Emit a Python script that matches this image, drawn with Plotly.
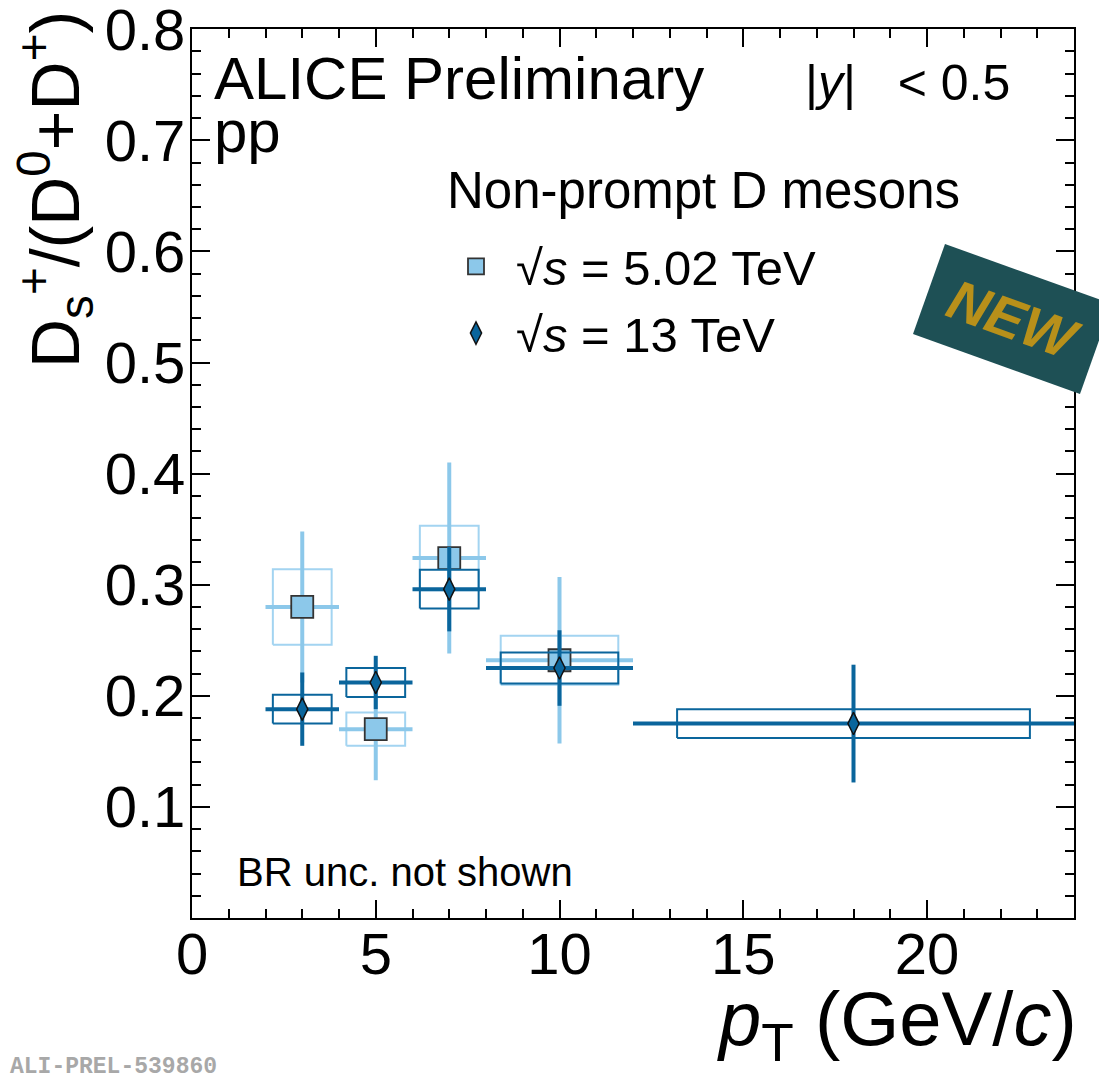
import plotly.graph_objects as go

# ---------------- data ----------------
pt_502 = [3, 5, 7, 10]
pt_err_502 = [1, 1, 1, 2]
ratio_502 = [0.280, 0.170, 0.324, 0.232]
stat_502 = [0.068, 0.046, 0.086, 0.075]
syst_502 = [0.034, 0.015, 0.029, 0.022]

pt_13 = [3, 5, 7, 10, 18]
pt_err_13 = [1, 1, 1, 2, 6]
ratio_13 = [0.188, 0.212, 0.296, 0.225, 0.175]
stat_13 = [0.033, 0.024, 0.038, 0.034, 0.053]
syst_13 = [0.013, 0.013, 0.0175, 0.014, 0.013]

x_ticks = [0, 5, 10, 15, 20]
y_ticks = [0.1, 0.2, 0.3, 0.4, 0.5, 0.6, 0.7, 0.8]

# ---------------- style ----------------
OFF = 8                      # browser default body margin
W, H = 1107 - OFF, 1078 - OFF
L, R, T, B = 192, 1074, 29, 918   # plot area in screen pixels
FONT = "Liberation Sans, Arial, Helvetica, sans-serif"
LIGHT = "#8cc8ea"
LIGHT_BOX = "#a3d4f1"
DARK = "#0a659c"
BOX_FRAC = 0.8  # box half-width relative to bin half-width


def px(xp):
    return (xp - L) / (R - L)


def py(yp):
    return (B - yp) / (B - T)


def box_path(xs, xe, ys, es):
    bx, by = [], []
    for x, dx, y, e in zip(xs, xe, ys, es):
        w = dx * BOX_FRAC
        bx += [x - w, x + w, x + w, x - w, x - w, None]
        by += [y - e, y - e, y + e, y + e, y - e, None]
    return bx, by


fig = go.Figure()

# 5.02 TeV systematic boxes
bx, by = box_path(pt_502, pt_err_502, ratio_502, syst_502)
fig.add_trace(go.Scatter(x=bx, y=by, mode="lines", line=dict(color=LIGHT_BOX, width=2),
                         showlegend=False, hoverinfo="skip"))
# 5.02 TeV points
fig.add_trace(go.Scatter(
    x=pt_502, y=ratio_502, mode="markers", name="√<i>s</i> = 5.02 TeV",
    marker=dict(symbol="square", size=22, color=LIGHT, line=dict(color="#333333", width=1.8)),
    error_y=dict(type="data", array=stat_502, color=LIGHT, thickness=4, width=0),
    error_x=dict(type="data", array=pt_err_502, color=LIGHT, thickness=4, width=0),
))

# 13 TeV systematic boxes
bx, by = box_path(pt_13, pt_err_13, ratio_13, syst_13)
fig.add_trace(go.Scatter(x=bx, y=by, mode="lines", line=dict(color=DARK, width=2),
                         showlegend=False, hoverinfo="skip"))
# 13 TeV points
fig.add_trace(go.Scatter(
    x=pt_13, y=ratio_13, mode="markers", name="√<i>s</i> = 13 TeV",
    marker=dict(symbol="diamond-tall", size=16, color=DARK, line=dict(color="#111111", width=1.5)),
    error_y=dict(type="data", array=stat_13, color=DARK, thickness=4, width=0),
    error_x=dict(type="data", array=pt_err_13, color=DARK, thickness=4, width=0),
))

axis_common = dict(
    showline=True, linecolor="black", linewidth=2, mirror="allticks",
    ticks="inside", ticklen=18, tickwidth=1.5, tickcolor="black",
    showgrid=False, zeroline=False, ticklabeloverflow="allow", automargin=False,
    tickfont=dict(family=FONT, size=58, color="black"),
)

fig.update_xaxes(range=[0, 24], tickmode="array", tickvals=x_ticks,
                 ticktext=[str(v) for v in x_ticks],
                 minor=dict(tickmode="linear", tick0=0, dtick=1, ticks="inside",
                            ticklen=9, tickwidth=1.5, tickcolor="black"),
                 ticklabelstandoff=-16,
                 **axis_common)
fig.update_yaxes(range=[0, 0.8002], tickmode="array", tickvals=y_ticks,
                 ticktext=[f"{v:.1f}" for v in y_ticks],
                 minor=dict(tickmode="linear", tick0=0, dtick=0.02, ticks="inside",
                            ticklen=9, tickwidth=1.5, tickcolor="black"),
                 ticklabelstandoff=-7,
                 **axis_common)

ann = []
ann.append(dict(text="ALICE Preliminary", x=px(212), y=py(79), xanchor="left", yanchor="middle",
                font=dict(family=FONT, size=60, color="black")))
ann.append(dict(text="pp", x=px(212), y=py(132), xanchor="left", yanchor="middle",
                font=dict(family=FONT, size=60, color="black")))
ann.append(dict(text="|<i>y</i>|&#160;&#160; &lt; 0.5", x=px(1012), y=py(83), xanchor="right",
                yanchor="middle", font=dict(family=FONT, size=50, color="black")))
ann.append(dict(text="Non-prompt D mesons", x=px(445), y=py(190), xanchor="left", yanchor="middle",
                font=dict(family=FONT, size=51, color="black")))
ann.append(dict(text="BR unc. not shown", x=px(235), y=py(872), xanchor="left", yanchor="middle",
                font=dict(family=FONT, size=40, color="black")))
ann.append(dict(text="<i>p</i><sub>T</sub> (GeV/<i>c</i>)", x=px(1079), y=py(1024),
                xanchor="right", yanchor="middle",
                font=dict(family=FONT, size=76, color="black")))
ann.append(dict(text="D<sub>s</sub><sup>+</sup>/(D<sup>0</sup>+D<sup>+</sup>)", x=px(55), y=py(190),
                xanchor="center", yanchor="middle", textangle=-90,
                font=dict(family=FONT, size=68, color="black")))
ann.append(dict(text="<b>ALI-PREL-539860</b>", x=px(8), y=py(1067), xanchor="left", yanchor="middle",
                font=dict(family="Liberation Mono, Courier New, monospace", size=23, color="#a8a8a8")))
ann.append(dict(text="<b><i>NEW</i></b>", x=px(1013), y=py(320), xanchor="center", yanchor="middle",
                textangle=20, font=dict(family=FONT, size=56, color="#b8901a")))
for a in ann:
    a.update(xref="paper", yref="paper", showarrow=False)

# NEW badge (rotated rectangle)
corners = [(945, 244), (1112, 304), (1080, 394), (913, 334)]
path = "M " + " L ".join(f"{px(cx):.5f},{py(cy):.5f}" for cx, cy in corners) + " Z"
fig.add_shape(type="path", path=path, xref="paper", yref="paper",
              fillcolor="#1e5055", line=dict(width=0), layer="above")

fig.update_layout(
    width=W, height=H,
    margin=dict(l=L - OFF, r=W - (R - OFF), t=T - OFF, b=H - (B - OFF), pad=0, autoexpand=False),
    paper_bgcolor="white", plot_bgcolor="white",
    annotations=ann,
    showlegend=True,
    legend=dict(
        x=px(436), y=py(228), xanchor="left", yanchor="top",
        bgcolor="rgba(0,0,0,0)", borderwidth=0,
        font=dict(family=FONT, size=49, color="black"),
        itemwidth=70, tracegroupgap=0,
    ),
    font=dict(family=FONT),
)

fig.write_html("out.html")
